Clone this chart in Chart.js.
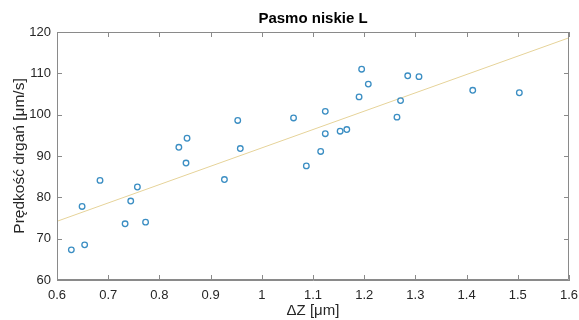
<!DOCTYPE html>
<html>
<head>
<meta charset="utf-8">
<script src="https://cdn.jsdelivr.net/npm/chart.js@4.4.0/dist/chart.umd.min.js"></script>
<style>
    html, body { margin: 0; padding: 0; background: #fff; }
    #wrap { width: 579px; height: 320px; }
</style>
</head>
<body>
<div id="wrap"><canvas id="chart1"></canvas></div>
<script>
    // measured points (dZ in um, velocity in um/s)
    var dz = [0.628, 0.649, 0.654, 0.684, 0.733, 0.744, 0.757, 0.773, 0.838, 0.852,
              0.854, 0.927, 0.953, 0.958, 1.062, 1.087, 1.115, 1.124, 1.124, 1.153,
              1.166, 1.190, 1.195, 1.208, 1.264, 1.271, 1.285, 1.307, 1.412, 1.503];
    var speed = [67.3, 77.8, 68.5, 84.1, 73.6, 79.1, 82.5, 74.0, 92.1, 88.3,
                 94.3, 84.3, 98.6, 91.8, 99.2, 87.6, 91.1, 100.8, 95.4, 96.0,
                 96.4, 104.3, 111.0, 107.4, 99.4, 103.4, 109.4, 109.2, 105.9, 105.3];
    // fitted line end points
    var fitX = [0.6, 1.6];
    var fitY = [74.2, 118.6];

    var xTicks = [0.6, 0.7, 0.8, 0.9, 1.0, 1.1, 1.2, 1.3, 1.4, 1.5, 1.6];
    var yTicks = [60, 70, 80, 90, 100, 110, 120];

    var axisColor = '#8a8a8a';
    var textColor = '#262626';
    var fontFam = '"Liberation Sans", Arial, sans-serif';

    // inward tick marks on all four sides plus the top/right box edges
    var boxTicks = {
        id: 'boxTicks',
        afterLayout: function (chart) {
            // center the title over the plot area, not the whole canvas
            if (chart.titleBlock) {
                chart.titleBlock.left = chart.chartArea.left;
                chart.titleBlock.right = chart.chartArea.right;
            }
        },
        afterDatasetsDraw: function (chart) {
            var ctx = chart.ctx, a = chart.chartArea;
            var xs = chart.scales.x, ys = chart.scales.y;
            var len = 5;
            ctx.save();
            ctx.strokeStyle = axisColor;
            ctx.lineWidth = 1;
            ctx.beginPath();
            ctx.rect(a.left + 0.5, a.top + 0.5, a.right - a.left - 1, a.bottom - a.top - 1);
            xTicks.forEach(function (v) {
                var px = Math.round(xs.getPixelForValue(v)) + 0.5;
                ctx.moveTo(px, a.bottom); ctx.lineTo(px, a.bottom - len);
                ctx.moveTo(px, a.top); ctx.lineTo(px, a.top + len);
            });
            yTicks.forEach(function (v) {
                var py = Math.round(ys.getPixelForValue(v)) + 0.5;
                ctx.moveTo(a.left, py); ctx.lineTo(a.left + len, py);
                ctx.moveTo(a.right, py); ctx.lineTo(a.right - len, py);
            });
            ctx.stroke();
            ctx.restore();
        }
    };

    var points = dz.map(function (x, i) { return { x: x, y: speed[i] }; });
    var fit = fitX.map(function (x, i) { return { x: x, y: fitY[i] }; });

    new Chart(document.getElementById('chart1'), {
        type: 'scatter',
        data: {
            datasets: [{
                label: 'pomiary',
                data: points,
                pointStyle: 'circle',
                pointRadius: 2.8,
                pointBorderWidth: 1.3,
                borderColor: '#3b8ec3',
                backgroundColor: 'rgba(0,0,0,0)'
            }, {
                label: 'fit',
                type: 'line',
                data: fit,
                showLine: true,
                pointRadius: 0,
                borderWidth: 1,
                borderColor: '#e6d399',
                fill: false
            }]
        },
        plugins: [boxTicks],
        options: {
            responsive: true,
            maintainAspectRatio: false,
            animation: false,
            layout: { padding: { right: 1 } },
            plugins: {
                legend: { display: false },
                tooltip: { enabled: false },
                title: {
                    display: true,
                    text: 'Pasmo niskie L',
                    color: '#000',
                    font: { family: fontFam, size: 15, weight: 'bold' },
                    padding: { top: 10, bottom: 4 }
                }
            },
            scales: {
                x: {
                    type: 'linear',
                    min: 0.6,
                    max: 1.6,
                    afterBuildTicks: function (s) { s.ticks = xTicks.map(function (v) { return { value: v }; }); },
                    afterFit: function (s) { s.height = 40; s.paddingRight = 10; },
                    grid: { display: false, drawTicks: false },
                    border: { display: true, color: axisColor },
                    ticks: {
                        padding: 8,
                        color: textColor,
                        font: { family: fontFam, size: 13 },
                        maxRotation: 0,
                        callback: function (v) { return String(Math.round(v * 10) / 10); }
                    },
                    title: {
                        display: true,
                        text: 'ΔZ [μm]',
                        color: textColor,
                        font: { family: fontFam, size: 15 },
                        padding: { top: 0, bottom: 0 }
                    }
                },
                y: {
                    type: 'linear',
                    min: 60,
                    max: 120,
                    afterBuildTicks: function (s) { s.ticks = yTicks.map(function (v) { return { value: v }; }); },
                    afterFit: function (s) { s.width = 57; },
                    grid: { display: false, drawTicks: false },
                    border: { display: true, color: axisColor },
                    ticks: {
                        padding: 6,
                        color: textColor,
                        font: { family: fontFam, size: 13 }
                    },
                    title: {
                        display: true,
                        text: 'Prędkość drgań [μm/s]',
                        color: textColor,
                        font: { family: fontFam, size: 15.5 },
                        padding: { top: 10, bottom: 0 }
                    }
                }
            }
        }
    });
</script>
</body>
</html>
